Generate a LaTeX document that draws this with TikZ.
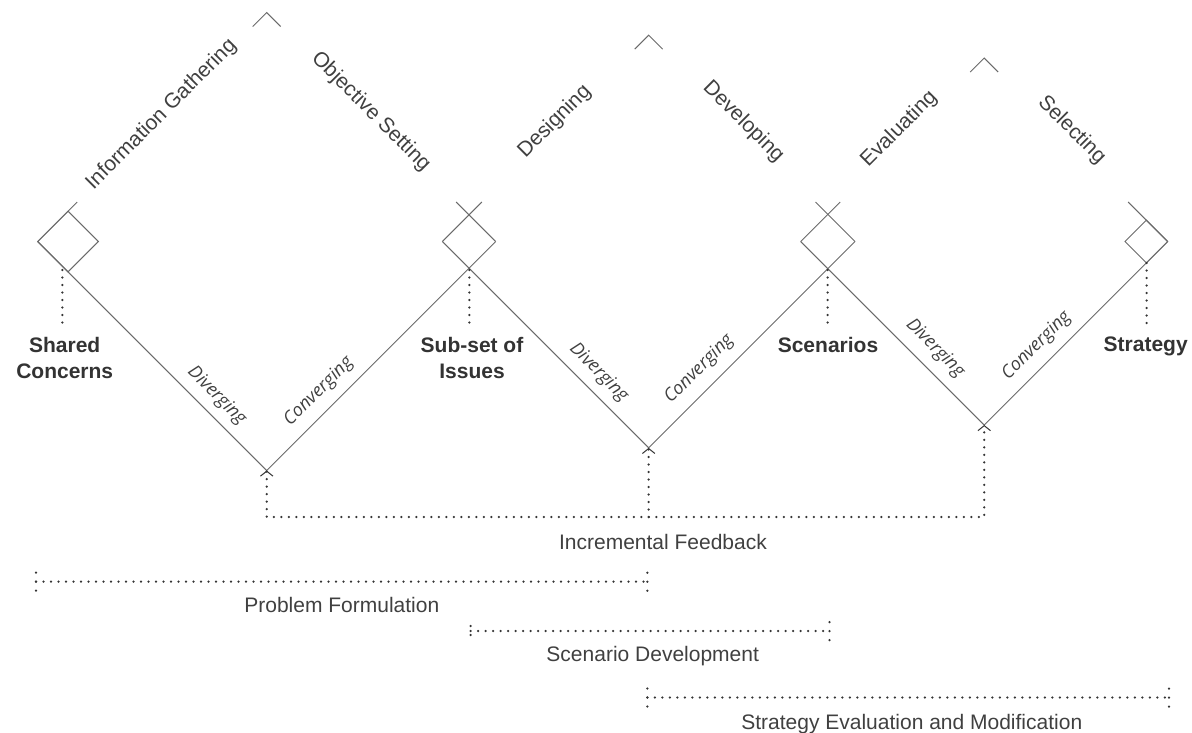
\documentclass[tikz,border=0pt]{standalone}
\usepackage{fontspec}
\setmainfont{Liberation Sans}
\newfontfamily\modefont{Open Sans}
\usetikzlibrary{calc,arrows.meta}
\definecolor{ink}{HTML}{404040}
\definecolor{inkdark}{HTML}{333333}
\definecolor{edge}{HTML}{6A6A6A}
\definecolor{dots}{HTML}{353535}

\begin{document}
\begin{tikzpicture}[x=1pt,y=-1pt,
  edgeline/.style={draw=edge,line width=1pt},
  dotline/.style={draw=dots,line width=2.5pt,line cap=round,dash pattern=on 0pt off 7.5pt},
  tickline/.style={draw=dots,line width=2.5pt,line cap=round,dash pattern=on 0pt off 9pt},
  fbtip/.style={-{Straight Barb[length=5pt,width=12.5pt,line width=1pt]}},
  phase/.style={font=\fontsize{21}{25}\selectfont,text=ink,inner sep=0pt},
  mode/.style={font=\modefont\itshape\fontsize{18}{21}\selectfont,text=ink,inner sep=0pt},
  outcome/.style={font=\bfseries\fontsize{21}{26.5}\selectfont,text=inkdark,inner sep=0pt,align=center,anchor=north},
  stage/.style={font=\fontsize{21}{25}\selectfont,text=ink,inner sep=0pt,anchor=base}]
\useasboundingbox (0,0) rectangle (1192,732);

% corners of the three large diamonds
\coordinate (L1) at (37.7,241.5);  \coordinate (T1) at (266.7,12.5);
\coordinate (R1) at (495.7,241.5); \coordinate (B1) at (266.7,470.5);
\coordinate (L2) at (442.3,241.5); \coordinate (T2) at (648.65,35.15);
\coordinate (R2) at (855,241.5);   \coordinate (B2) at (648.65,447.85);
\coordinate (L3) at (800.7,241.5); \coordinate (T3) at (984.2,58);
\coordinate (R3) at (1167.7,241.5);\coordinate (B3) at (984.2,425);
% small end diamonds
\coordinate (s1t) at (68,211.2);   \coordinate (s1r) at (98.3,241.5);
\coordinate (s1b) at (68,271.8);
\coordinate (s4l) at (1125,241.5); \coordinate (s4t) at (1146.35,220.15);
\coordinate (s4b) at (1146.35,262.85);

% lower halves: diverging / converging
\draw[edgeline] (L1) -- (B1) -- (R1);
\draw[edgeline] (L2) -- (B2) -- (R2);
\draw[edgeline] (L3) -- (B3) -- (R3);

% upper halves, left open behind the phase names
\draw[edgeline] (L1) -- ($(L1)!0.1725!(T1)$) ($(L1)!0.9389!(T1)$) -- (T1)
  -- ($(T1)!0.0611!(R1)$) ($(T1)!0.8275!(R1)$) -- (R1);
\draw[edgeline] (L2) -- ($(L2)!0.1914!(T2)$) ($(L2)!0.9322!(T2)$) -- (T2)
  -- ($(T2)!0.0678!(R2)$) ($(T2)!0.8086!(R2)$) -- (R2);
\draw[edgeline] (L3) -- ($(L3)!0.2153!(T3)$) ($(L3)!0.9237!(T3)$) -- (T3)
  -- ($(T3)!0.0763!(R3)$) ($(T3)!0.7847!(R3)$) -- (R3);

\draw[edgeline] (L1) -- (s1t) -- (s1r) -- (s1b) -- cycle;
\draw[edgeline] (s4l) -- (s4t) -- (R3) -- (s4b) -- cycle;

% phase names
\node[phase,rotate=45]  (ig)  at (161.5,114.5) {Information Gathering};
\node[phase,rotate=-45] (os)  at (370.8,111.7) {Objective Setting};
\node[phase,rotate=45]  (dsg) at (554.7,121.7) {Designing};
\node[phase,rotate=-45] (dev) at (743.3,121.7) {Developing};
\node[phase,rotate=45]  (evl) at (899.2,129.2) {Evaluating};
\node[phase,rotate=-45] (sel) at (1071.7,130)  {Selecting};

% modes
\node[mode,rotate=-45] (dv1) at (216.7,395.8) {Diverging};
\node[mode,rotate=45]  (cv1) at (318.8,391.7) {Converging};
\node[mode,rotate=-45] (dv2) at (598.7,372.5) {Diverging};
\node[mode,rotate=45]  (cv2) at (699.2,369.2) {Converging};
\node[mode,rotate=-45] (dv3) at (935,348.3)   {Diverging};
\node[mode,rotate=45]  (cv3) at (1036.7,345.8){Converging};

% outcomes
\node[outcome] (shc) at (64.7,337)   {Shared\\Concerns};
\node[outcome] (sub) at (472,337)    {Sub-set of\\Issues};
\node[outcome] (scn) at (828,337)    {Scenarios};
\node[outcome] (stg) at (1145.7,337) {Strategy};

\coordinate (k1) at (62.3,270);
\coordinate (k2) at (469.3,270);
\coordinate (k3) at (827.7,270);
\coordinate (k4) at (1146.7,263);
\draw[dotline,shorten >=7pt]  (k1) -- (k1 |- shc.north);
\draw[dotline,shorten >=7pt]  (k2) -- (k2 |- sub.north);
\draw[dotline,shorten >=7pt]  (k3) -- (k3 |- scn.north);
\draw[dotline,shorten >=12pt] (k4) -- (k4 |- stg.north);

% incremental feedback
\coordinate (f1) at (266.7,517);
\coordinate (f2) at (648.65,517);
\coordinate (f3) at (984.2,517);
\draw[dotline,{Straight Barb[length=5pt,width=12.5pt,line width=1pt]}-{Straight Barb[length=5pt,width=12.5pt,line width=1pt]}]
  (B1) -- (f1) -- (f3) -- (B3);
\draw[dotline,fbtip] (f2) -- (B2);
\node[stage] (fb) at (663,549.3) {Incremental Feedback};

% stage spans
\coordinate (pa) at (36,581.7);    \coordinate (pb) at (647.3,581.7);
\coordinate (sa) at (470.7,631);   \coordinate (sb) at (829.5,631);
\coordinate (ea) at (647.3,697.5); \coordinate (eb) at (1169,697.5);
\draw[dotline] (pa) -- (pb);
\draw[dotline] (sa) -- (sb);
\draw[dotline] (ea) -- (eb);
\draw[tickline] ($(pa)+(0,-9)$) -- ($(pa)+(0,9)$);
\draw[tickline] ($(pb)+(0,-9)$) -- ($(pb)+(0,9)$);
\draw[tickline] ($(sa)+(0,-5)$) -- ($(sa)+(0,5)$);
\draw[tickline] ($(sb)+(0,-9)$) -- ($(sb)+(0,9)$);
\draw[tickline] ($(ea)+(0,-9)$) -- ($(ea)+(0,9)$);
\draw[tickline] ($(eb)+(0,-9)$) -- ($(eb)+(0,9)$);
\node[stage] (pf)  at (341.8,612.3) {Problem Formulation};
\node[stage] (sdv) at (652.7,661.7) {Scenario Development};
\node[stage] (sem) at (911.8,729.3) {Strategy Evaluation and Modification};
\end{tikzpicture}
\end{document}
